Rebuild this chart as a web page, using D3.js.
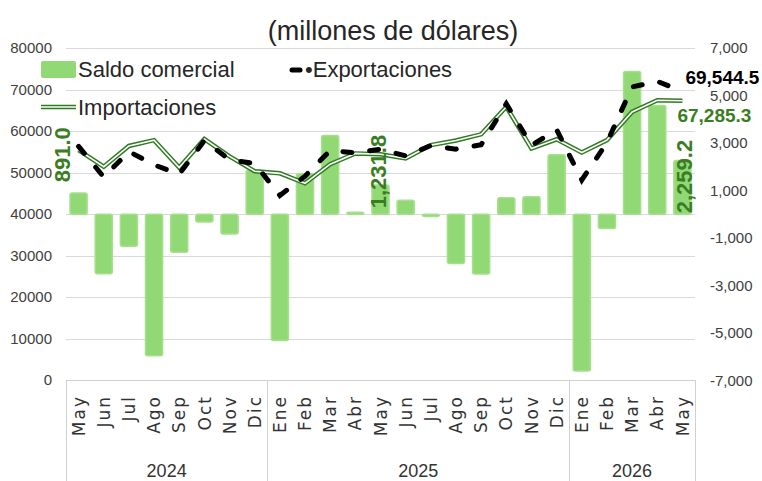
<!DOCTYPE html>
<html>
<head>
  <meta charset="utf-8">
  <title>Saldo comercial</title>
  <script src="https://cdnjs.cloudflare.com/ajax/libs/d3/7.8.5/d3.min.js"></script>
  <style>
    body { margin: 0; background: #fff; }
    svg { display: block; font-family: 'Liberation Sans', Arial, sans-serif; }
    .tick text { fill: #404040; font-size: 15px; }
    .month { fill: #333; font-family: 'DejaVu Sans', sans-serif; font-size: 17px; letter-spacing: 2px; }
    .year { fill: #333; font-size: 18px; }
    .legend text { fill: #262626; font-size: 22px; }
  </style>
</head>
<body>
<svg id="chart" width="762" height="481"></svg>
<script>
  // data (millones de dolares)
  const months = ['May', 'Jun', 'Jul', 'Ago', 'Sep', 'Oct', 'Nov', 'Dic',
    'Ene', 'Feb', 'Mar', 'Abr', 'May', 'Jun', 'Jul', 'Ago', 'Sep', 'Oct', 'Nov', 'Dic',
    'Ene', 'Feb', 'Mar', 'Abr', 'May'];
  const yearLabels = ['2024', '2025', '2026'];
  const yearCounts = [8, 12, 5];
  const saldo = [891.0, -2500, -1350, -5960, -1600, -330, -830, 1850,
    -5320, 1710, 3320, 80, 1231.8, 590, -90, -2070, -2520, 690, 740, 2510,
    -6600, -600, 6010, 4580, 2259.2];
  const exportaciones = [56290, 48900, 55050, 51850, 49600, 57720, 53070, 52150,
    44480, 49110, 55320, 54720, 55630, 53990, 56500, 55630, 56680, 66540, 56540, 60300,
    48200, 57200, 70610, 71980, 69544.5];
  const importaciones = [55400, 51400, 56400, 57800, 51200, 58050, 53900, 50300,
    49800, 47400, 52000, 54600, 54400, 53400, 56600, 57700, 59200, 65850, 55800, 58000,
    54800, 57800, 64600, 67400, 67285.3];
  const leftTicks = [0, 10000, 20000, 30000, 40000, 50000, 60000, 70000, 80000];
  const rightTicks = [-7000, -5000, -3000, -1000, 1000, 3000, 5000, 7000];
  const barLabels = [0, 12, 24]; // bars that carry a value label

  const plotLeft = 66, plotRight = 695, plotTop = 48, plotBottom = 380;
  const barColor = '#91d975', darkGreen = '#3a7d22';

  // plain hyphen for negatives, as in the original
  const loc = d3.formatLocale({ decimal: '.', thousands: ',', grouping: [3], currency: ['$', ''], minus: '-' });
  const fmtInt = loc.format(',');
  const fmt1 = loc.format(',.1f');

  const svg = d3.select('#chart');

  const x = d3.scaleBand()
    .domain(d3.range(months.length))
    .range([plotLeft, plotRight])
    .paddingInner(0.32)
    .paddingOuter(0.16);
  const cx = i => x(i) + x.bandwidth() / 2;

  const yL = d3.scaleLinear().domain([0, 80000]).range([plotBottom, plotTop]);
  const yR = d3.scaleLinear().domain([-7000, 7000]).range([plotBottom + 0.5, plotTop]);

  // title
  svg.append('text')
    .attr('x', 393).attr('y', 40)
    .attr('text-anchor', 'middle')
    .style('font-size', '27px')
    .style('fill', '#262626')
    .text('(millones de dólares)');

  // gridlines
  svg.append('g')
    .selectAll('line')
    .data(leftTicks.filter(d => d > 0))
    .join('line')
    .attr('x1', plotLeft).attr('x2', plotRight)
    .attr('y1', d => Math.round(yL(d)) + 0.5)
    .attr('y2', d => Math.round(yL(d)) + 0.5)
    .attr('stroke', '#d9d9d9');

  // axes
  svg.append('g')
    .attr('transform', `translate(${plotLeft},0)`)
    .call(d3.axisLeft(yL).tickValues(leftTicks).tickSize(0).tickPadding(14).tickFormat(d3.format('d')))
    .call(g => g.select('.domain').remove());

  svg.append('g')
    .attr('transform', `translate(${plotRight},0)`)
    .call(d3.axisRight(yR).tickValues(rightTicks).tickSize(0).tickPadding(15).tickFormat(fmtInt))
    .call(g => g.select('.domain').remove());

  // category axis: baseline, group separators, months, years
  const step = x.step();
  svg.append('line')
    .attr('x1', plotLeft).attr('x2', plotRight)
    .attr('y1', plotBottom + 0.5).attr('y2', plotBottom + 0.5)
    .attr('stroke', '#d0d0d0');

  const bounds = [0].concat(Array.from(d3.cumsum(yearCounts)));
  svg.append('g')
    .selectAll('line')
    .data(bounds)
    .join('line')
    .attr('x1', d => Math.round(plotLeft + d * step) + 0.5)
    .attr('x2', d => Math.round(plotLeft + d * step) + 0.5)
    .attr('y1', plotBottom).attr('y2', 481)
    .attr('stroke', '#d0d0d0');

  svg.append('g')
    .selectAll('text')
    .data(months)
    .join('text')
    .attr('class', 'month')
    .attr('text-anchor', 'end')
    .attr('dy', '0.36em')
    .attr('transform', (d, i) => `translate(${cx(i)},395) rotate(-90)`)
    .text(d => d);

  svg.append('g')
    .selectAll('text')
    .data(yearLabels)
    .join('text')
    .attr('class', 'year')
    .attr('text-anchor', 'middle')
    .attr('x', (d, i) => plotLeft + (bounds[i] + bounds[i + 1]) / 2 * step)
    .attr('y', 477)
    .text(d => d);

  // bars (right axis)
  svg.append('g')
    .selectAll('rect')
    .data(saldo)
    .join('rect')
    .attr('x', (d, i) => x(i))
    .attr('width', x.bandwidth())
    .attr('y', d => Math.min(yR(d), yR(0)))
    .attr('height', d => Math.abs(yR(d) - yR(0)))
    .attr('rx', 2)
    .attr('fill', barColor)
    .attr('stroke', '#a6e08d')
    .attr('stroke-width', 1.5);

  // importaciones: double line
  const line = d3.line().x((d, i) => cx(i)).y(d => yL(d));
  svg.append('path')
    .attr('d', line(importaciones))
    .attr('fill', 'none')
    .attr('stroke', '#2f7a22')
    .attr('stroke-width', 4.5);
  svg.append('path')
    .attr('d', line(importaciones))
    .attr('fill', 'none')
    .attr('stroke', '#fff')
    .attr('stroke-width', 1.6);

  // exportaciones: dashed
  svg.append('path')
    .attr('d', line(exportaciones))
    .attr('fill', 'none')
    .attr('stroke', '#000')
    .attr('stroke-width', 5)
    .attr('stroke-linecap', 'round')
    .attr('stroke-dasharray', '9 18');

  // bar value labels (vertical)
  const labelDx = { 0: -8.6, 12: 5.5, 24: 9.5 };
  const labelDy = { 0: -32, 12: -6, 24: -1 };
  svg.append('g')
    .selectAll('text')
    .data(barLabels)
    .join('text')
    .attr('transform', i => `translate(${cx(i) + labelDx[i]},${yR(0) + labelDy[i]}) rotate(-90)`)
    .style('font-size', '22px')
    .style('font-weight', 'bold')
    .style('fill', darkGreen)
    .text(i => fmt1(saldo[i]));

  // end labels of the lines
  const last = months.length - 1;
  svg.append('text')
    .attr('x', cx(last) + 3).attr('y', yL(exportaciones[last]) - 7)
    .style('font-size', '19px').style('font-weight', 'bold').style('fill', '#000')
    .text(fmt1(exportaciones[last]));
  svg.append('text')
    .attr('x', cx(last) - 5).attr('y', yL(importaciones[last]) + 21)
    .style('font-size', '19px').style('font-weight', 'bold').style('fill', darkGreen)
    .text(fmt1(importaciones[last]));

  // legend
  const lg = svg.append('g').attr('class', 'legend');
  lg.append('rect')
    .attr('x', 41).attr('y', 61).attr('width', 35).attr('height', 17).attr('rx', 2)
    .attr('fill', barColor);
  lg.append('text').attr('x', 78).attr('y', 77).text('Saldo comercial');
  lg.append('line')
    .attr('x1', 292).attr('x2', 300).attr('y1', 70).attr('y2', 70)
    .attr('stroke', '#000').attr('stroke-width', 5).attr('stroke-linecap', 'round');
  lg.append('text').attr('x', 305).attr('y', 77).text('•Exportaciones');
  lg.append('line')
    .attr('x1', 41).attr('x2', 76).attr('y1', 107).attr('y2', 107)
    .attr('stroke', '#2f7a22').attr('stroke-width', 4.5);
  lg.append('line')
    .attr('x1', 41).attr('x2', 76).attr('y1', 107).attr('y2', 107)
    .attr('stroke', '#fff').attr('stroke-width', 1.6);
  lg.append('text').attr('x', 78).attr('y', 115).text('Importaciones');
</script>
</body>
</html>
